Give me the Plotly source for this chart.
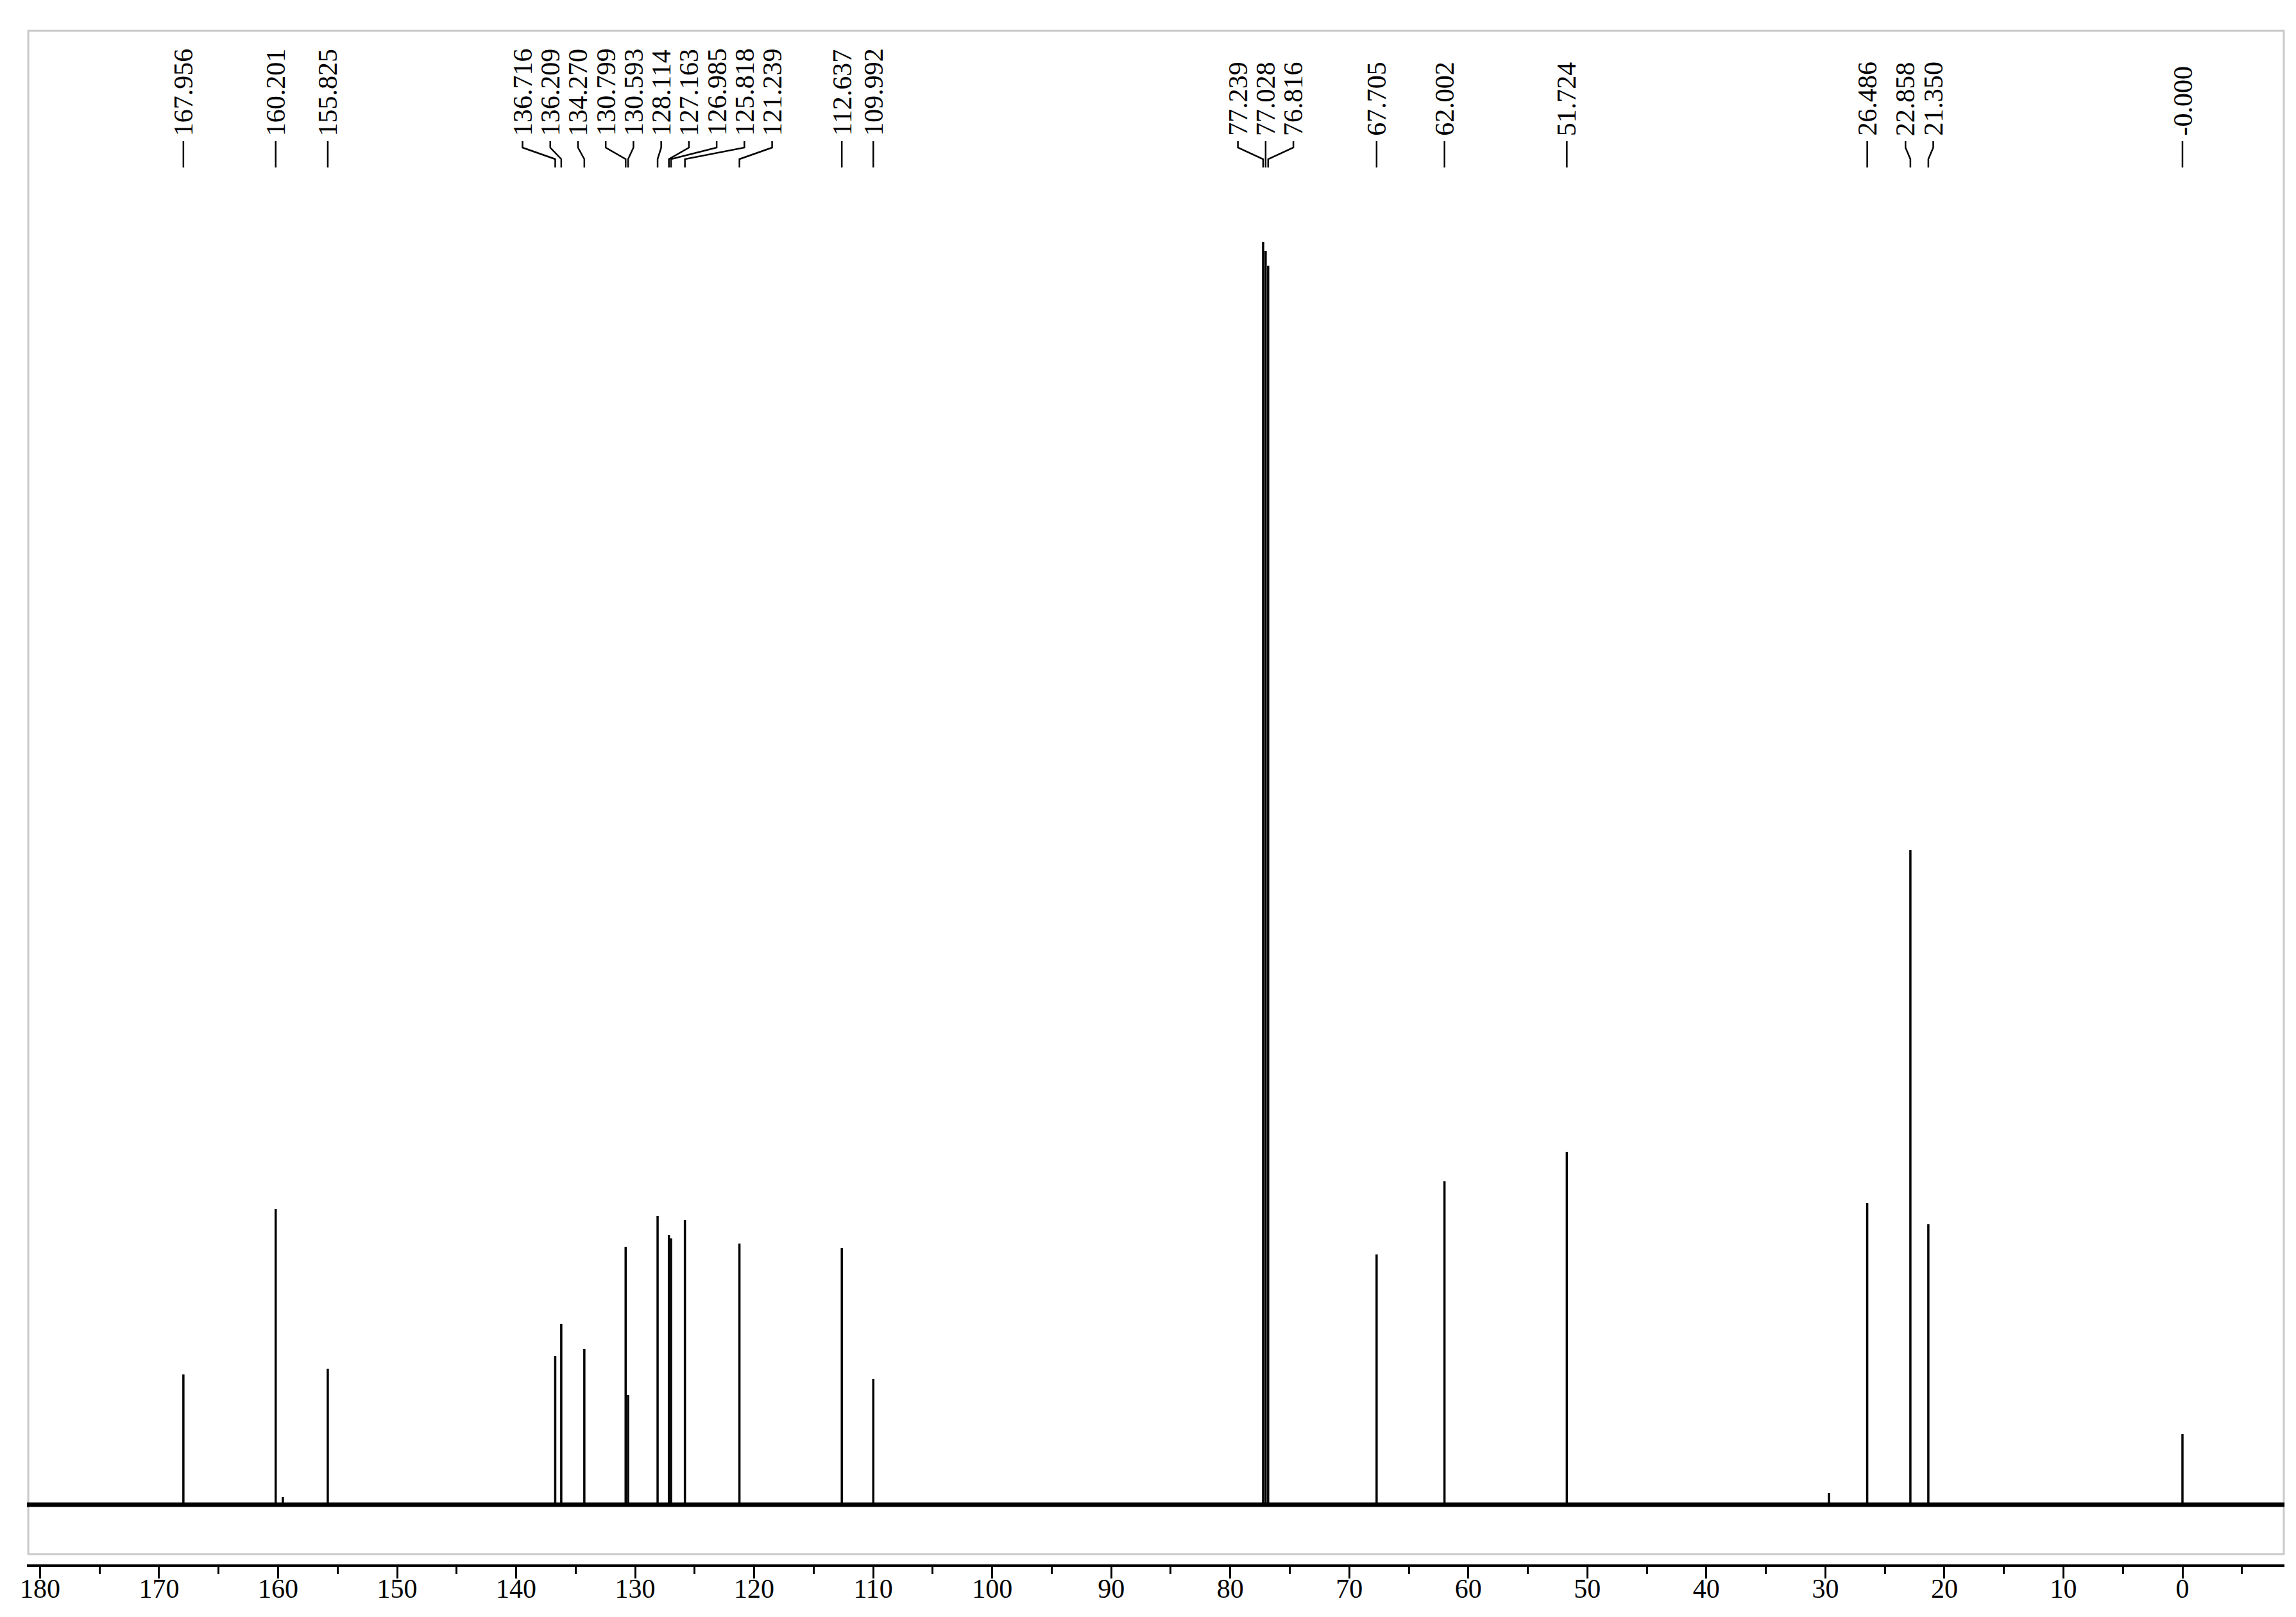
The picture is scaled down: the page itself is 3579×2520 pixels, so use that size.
import plotly.graph_objects as go

# ---------------- data ----------------
peak_ppm = [167.956, 160.201, 155.825, 136.716, 136.209, 134.270, 130.799, 130.593,
            128.114, 127.163, 126.985, 125.818, 121.239, 112.637, 109.992,
            77.239, 77.028, 76.816, 67.705, 62.002, 51.724, 26.486, 22.858, 21.350, 0.000]
peak_height = [203, 461, 212, 232, 282, 243, 402, 171,
               450, 420, 415, 444, 407, 400, 196,
               1968, 1954, 1931, 390, 504, 550, 470, 1020, 437, 110]
peak_labels = ["167.956", "160.201", "155.825", "136.716", "136.209", "134.270", "130.799", "130.593",
               "128.114", "127.163", "126.985", "125.818", "121.239", "112.637", "109.992",
               "77.239", "77.028", "76.816", "67.705", "62.002", "51.724", "26.486", "22.858", "21.350", "-0.000"]
minor_ppm = [159.6, 29.7]
minor_height = [12, 18]

tick_values = [180, 170, 160, 150, 140, 130, 120, 110, 100, 90, 80, 70, 60, 50, 40, 30, 20, 10, 0]
tick_text = [str(v) for v in tick_values]

# ---------------- layout constants ----------------
X_LEFT, X_RIGHT = 181.1, -8.57
Y_MIN, Y_MAX = -93, 2297
LABEL_SEP = 2.33           # minimum label spacing in ppm
LABEL_BOTTOM = 2132        # y where label text ends
C1, C2, C3, C4 = 2125, 2115, 2097, 2084   # connector break points

# ---------------- label spreading ----------------
order = sorted(range(len(peak_ppm)), key=lambda i: -peak_ppm[i])
groups = [[i] for i in order]

def place(g):
    hi = peak_ppm[g[0]]
    lo = peak_ppm[g[-1]]
    c = (hi + lo) / 2
    n = len(g)
    return [c + LABEL_SEP * ((n - 1) / 2 - k) for k in range(n)]

changed = True
while changed:
    changed = False
    pos = [place(g) for g in groups]
    for k in range(len(groups) - 1):
        if pos[k][-1] - pos[k + 1][0] < LABEL_SEP - 1e-9:
            groups[k] = groups[k] + groups[k + 1]
            del groups[k + 1]
            changed = True
            break

label_pos = {}
for g in groups:
    for i, p in zip(g, place(g)):
        label_pos[i] = p

# ---------------- traces ----------------
fig = go.Figure()

# baseline (noise band)
fig.add_trace(go.Scatter(x=[X_LEFT, X_RIGHT], y=[0, 0], mode="lines",
                         line=dict(color="black", width=7), hoverinfo="skip", showlegend=False))

# peaks as sticks
sx, sy = [], []
for p, h in zip(peak_ppm + minor_ppm, peak_height + minor_height):
    sx += [p, p, None]
    sy += [0, h, None]
fig.add_trace(go.Scatter(x=sx, y=sy, mode="lines", line=dict(color="black", width=3.5),
                         hoverinfo="skip", showlegend=False))

# connectors
cx, cy = [], []
for i, p in enumerate(peak_ppm):
    lp = label_pos[i]
    cx += [lp, lp, p, p, None]
    cy += [C1, C2, C3, C4, None]
fig.add_trace(go.Scatter(x=cx, y=cy, mode="lines", line=dict(color="black", width=2.5),
                         hoverinfo="skip", showlegend=False))

for i, txt in enumerate(peak_labels):
    fig.add_annotation(x=label_pos[i], y=LABEL_BOTTOM, xref="x", yref="y", text=txt,
                       textangle=-90, showarrow=False, xanchor="center", yanchor="bottom",
                       font=dict(family="Liberation Serif", size=42, color="black"), borderpad=0)

# gray frame
fig.add_shape(type="rect", xref="paper", yref="paper", x0=0.0006, x1=0.9997, y0=0.0067, y1=1.0,
              line=dict(color="#c8c8c8", width=3), layer="below")

fig.update_layout(
    width=3579, height=2520,
    margin=dict(l=34, r=26, t=40, b=90),
    paper_bgcolor="white", plot_bgcolor="white",
    xaxis=dict(range=[X_LEFT, X_RIGHT], showgrid=False, zeroline=False,
               showline=True, linecolor="black", linewidth=4,
               ticks="outside", ticklen=18, tickwidth=2.5, tickcolor="black",
               tickvals=tick_values, ticktext=tick_text, ticklabelstandoff=-20,
               tickfont=dict(family="Liberation Serif", size=42, color="black"),
               minor=dict(dtick=5, tick0=0, ticks="outside", ticklen=11, tickwidth=2.5, tickcolor="black")),
    yaxis=dict(range=[Y_MIN, Y_MAX], visible=False, showgrid=False, zeroline=False),
)

fig.write_html("out.html")
